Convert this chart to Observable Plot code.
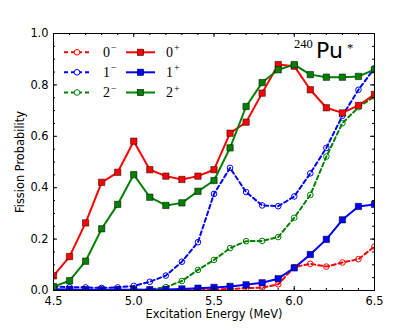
<!DOCTYPE html>
<html><head><meta charset="utf-8">
<script src="https://cdn.jsdelivr.net/npm/d3@7"></script>
<script src="https://cdn.jsdelivr.net/npm/@observablehq/plot@0.6"></script>
<style>body{margin:0;background:#fff} #chart{width:415px;height:332px}</style>
</head><body><div id="chart"></div>
<script>
// ---- data ----
const energies = [4.5,4.6,4.7,4.8,4.9,5.0,5.1,5.2,5.3,5.4,5.5,5.6,5.7,5.8,5.9,6.0,6.1,6.2,6.3,6.4,6.5];
const p0minus = [0.001,0.001,0.001,0.001,0.001,0.001,0.001,0.001,0.002,0.003,0.004,0.006,0.009,0.011,0.024,0.091,0.104,0.093,0.109,0.122,0.171];
const p1minus = [0.015,0.013,0.012,0.010,0.012,0.018,0.034,0.058,0.112,0.188,0.376,0.477,0.383,0.331,0.328,0.366,0.456,0.555,0.680,0.781,0.865];
const p2minus = [0.002,0.002,0.002,0.002,0.002,0.002,0.004,0.013,0.037,0.080,0.119,0.165,0.192,0.193,0.208,0.283,0.372,0.521,0.651,0.713,0.755];
const p0plus  = [0.057,0.132,0.263,0.421,0.460,0.581,0.470,0.445,0.432,0.445,0.470,0.612,0.655,0.768,0.879,0.873,0.781,0.711,0.691,0.720,0.763];
const p1plus  = [0.005,0.004,0.003,0.003,0.003,0.003,0.003,0.004,0.006,0.009,0.012,0.016,0.022,0.030,0.046,0.088,0.140,0.199,0.275,0.327,0.335];
const p2plus  = [0.015,0.038,0.114,0.240,0.335,0.451,0.363,0.331,0.341,0.386,0.428,0.555,0.716,0.809,0.859,0.879,0.840,0.830,0.830,0.833,0.859];

const seriesSpin   = ["0","1","2","0","1","2"];
const seriesParity = ["\u2212","\u2212","\u2212","+","+","+"];
const seriesColors = ["#ff0000","#0000ff","#008000","#ff0000","#0000ff","#008000"];
const seriesValues = [p0minus,p1minus,p2minus,p0plus,p1plus,p2plus];

const xMajorTicks = [4.5,5.0,5.5,6.0,6.5];
const xMinorTicks = energies;
const yMajorTicks = [0,0.2,0.4,0.6,0.8,1.0];
const yMinorTicks = [0,0.05,0.1,0.15,0.2,0.25,0.3,0.35,0.4,0.45,0.5,0.55,0.6,0.65,0.7,0.75,0.8,0.85,0.9,0.95,1.0];
const xLabel = "Excitation Energy (MeV)";
const yLabel = "Fission Probability";
const nucleusMass = "240", nucleusSymbol = "Pu", nucleusMark = "*";

// ---- layout ----
const W = 415, H = 332;
const mL = 53, mR = 41, mT = 33, mB = 42;
const fw = W - mL - mR, fh = H - mT - mB;

const rows = [];
seriesValues.forEach((vals, s) => vals.forEach((p, i) => rows.push({s, E: energies[i], p})));

const marks = [];
seriesValues.forEach((vals, s) => {
  const data = rows.filter(r => r.s === s);
  const minus = seriesParity[s] !== "+";
  marks.push(Plot.line(data, {x: "E", y: "p", stroke: seriesColors[s], strokeWidth: 2,
    strokeDasharray: minus ? "4,3" : null, clip: true}));
  if (minus) {
    marks.push(Plot.dot(data, {x: "E", y: "p", r: 2.8, stroke: seriesColors[s], fill: "none", strokeWidth: 1, clip: true}));
  } else {
    marks.push(Plot.dot(data, {x: "E", y: "p", symbol: "square", r: 3.6, fill: seriesColors[s], stroke: "#000", strokeWidth: 0.5, clip: true}));
  }
});

// inward ticks on all four sides
const majL = 4, minL = 2;
marks.push(
  Plot.tickX(xMajorTicks, {x: d => d, insetTop: fh - majL, stroke: "#000"}),
  Plot.tickX(xMajorTicks, {x: d => d, insetBottom: fh - majL, stroke: "#000"}),
  Plot.tickX(xMinorTicks, {x: d => d, insetTop: fh - minL, stroke: "#000"}),
  Plot.tickX(xMinorTicks, {x: d => d, insetBottom: fh - minL, stroke: "#000"}),
  Plot.tickY(yMajorTicks, {y: d => d, insetRight: fw - majL, stroke: "#000"}),
  Plot.tickY(yMajorTicks, {y: d => d, insetLeft: fw - majL, stroke: "#000"}),
  Plot.tickY(yMinorTicks, {y: d => d, insetRight: fw - minL, stroke: "#000"}),
  Plot.tickY(yMinorTicks, {y: d => d, insetLeft: fw - minL, stroke: "#000"}),
  Plot.frame({stroke: "#000", strokeWidth: 1}),
  Plot.axisX(xMajorTicks, {tickSize: 0, tickPadding: 6, tickFormat: d3.format(".1f"), label: null}),
  Plot.axisY(yMajorTicks, {tickSize: 0, tickPadding: 5, tickFormat: d3.format(".1f"), label: null}),
  Plot.text([xLabel], {frameAnchor: "bottom", text: d => d, dy: 23.5, lineAnchor: "middle", textAnchor: "middle"}),
  Plot.text([yLabel], {frameAnchor: "left", text: d => d, rotate: -90, dx: -33, lineAnchor: "middle", textAnchor: "middle"})
);

// legend + nucleus annotation
marks.push(() => {
  const g = d3.create("svg:g").attr("text-anchor", "start");
  const rowY = [52.3, 72.3, 92.5];
  const cols = [{x0: 64, x1: 90, lx: 103}, {x0: 126, x1: 155, lx: 166}];
  seriesValues.forEach((_, s) => {
    const c = cols[s < 3 ? 0 : 1], y = rowY[s % 3], col = seriesColors[s];
    const minus = seriesParity[s] !== "+";
    g.append("line").attr("x1", c.x0).attr("x2", c.x1).attr("y1", y).attr("y2", y)
      .attr("stroke", col).attr("stroke-width", 2).attr("stroke-dasharray", minus ? "4,3" : null);
    const cx = (c.x0 + c.x1) / 2;
    if (minus) {
      g.append("circle").attr("cx", cx).attr("cy", y).attr("r", 2.8).attr("fill", "#fff").attr("stroke", col);
    } else {
      g.append("rect").attr("x", cx - 3.2).attr("y", y - 3.2).attr("width", 6.4).attr("height", 6.4)
        .attr("fill", col).attr("stroke", "#000").attr("stroke-width", 0.5);
    }
    const t = g.append("text").attr("x", c.lx).attr("y", y + 4.6)
      .attr("font-family", "Liberation Serif").attr("font-size", 14).attr("fill", "#000");
    t.append("tspan").text(seriesSpin[s]);
    t.append("tspan").attr("dy", -5.5).attr("dx", 1).attr("font-size", 10).text(seriesParity[s]);
  });
  g.append("text").attr("x", 294).attr("y", 48.3).attr("font-family", "Liberation Serif")
    .attr("font-size", 12.5).attr("fill", "#000").text(nucleusMass);
  g.append("text").attr("x", 316).attr("y", 57.7).attr("font-family", "DejaVu Sans")
    .attr("font-size", 22).attr("fill", "#000").text(nucleusSymbol);
  g.append("text").attr("x", 347).attr("y", 51.5).attr("font-family", "Liberation Serif")
    .attr("font-size", 12.5).attr("fill", "#000").text(nucleusMark);
  return g.node();
});

const chart = Plot.plot({
  width: W, height: H,
  marginLeft: mL, marginRight: mR, marginTop: mT, marginBottom: mB,
  x: {domain: [4.5, 6.5]},
  y: {domain: [0, 1]},
  style: {fontFamily: "DejaVu Sans", fontSize: "11.4px", background: "#fff", color: "#000"},
  marks
});
document.getElementById("chart").appendChild(chart);
</script>
</body></html>
